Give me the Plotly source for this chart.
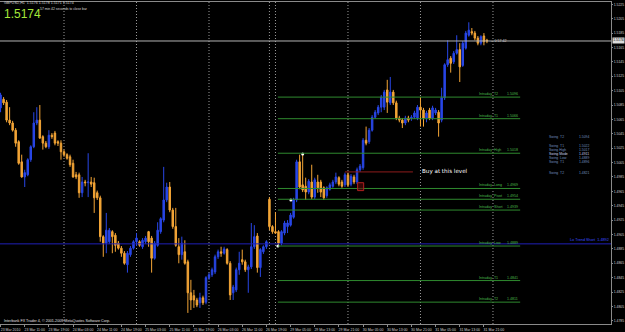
import plotly.graph_objects as go

# ---------------- data (GBPUSD H1) ----------------
open_ = [1.5081, 1.5093, 1.5089, 1.5064, 1.5060, 1.5050, 1.5034, 1.5006, 1.4985, 1.4988,
         1.5009, 1.5027, 1.5060, 1.5064, 1.5041, 1.5032, 1.5027, 1.5043, 1.5046, 1.5034,
         1.5032, 1.5020, 1.5016, 1.5013, 1.5004, 1.4988, 1.4988, 1.4963, 1.4978, 1.4977,
         1.4978, 1.4977, 1.4963, 1.4956, 1.4902, 1.4893, 1.4895, 1.4909, 1.4904, 1.4893,
         1.4886, 1.4879, 1.4863, 1.4877, 1.4886, 1.4895, 1.4895, 1.4888, 1.4895, 1.4909,
         1.4900, 1.4872, 1.4890, 1.4909, 1.4925, 1.4953, 1.4971, 1.4939, 1.4916, 1.4888,
         1.4877, 1.4881, 1.4867, 1.4824, 1.4820, 1.4814, 1.4810, 1.4817, 1.4811, 1.4845,
         1.4849, 1.4853, 1.4874, 1.4881, 1.4879, 1.4884, 1.4865, 1.4824, 1.4828, 1.4856,
         1.4870, 1.4867, 1.4856, 1.4860, 1.4888, 1.4903, 1.4859, 1.4881, 1.4888, 1.4954,
         1.4916, 1.4909, 1.4909, 1.4893, 1.4907, 1.4916, 1.4918, 1.4929, 1.4953, 1.5006,
         1.4974, 1.4972, 1.4964, 1.4978, 1.4957, 1.4978, 1.4978, 1.4970, 1.4959, 1.4968,
         1.4972, 1.4978, 1.4984, 1.4978, 1.4974, 1.4988, 1.4975, 1.4985, 1.4978, 1.4995,
         1.4998, 1.5036, 1.5034, 1.5050, 1.5068, 1.5074, 1.5082, 1.5082, 1.5106, 1.5088,
         1.5103, 1.5088, 1.5067, 1.5064, 1.5060, 1.5067, 1.5067, 1.5068, 1.5067, 1.5082,
         1.5078, 1.5067, 1.5078, 1.5067, 1.5074, 1.5075, 1.5064, 1.5095, 1.5141, 1.5150,
         1.5145, 1.5157, 1.5162, 1.5140, 1.5164, 1.5182, 1.5187, 1.5185, 1.5178, 1.5171,
         1.5181, 1.5175]
high = [1.5102, 1.5096, 1.5092, 1.5082, 1.5063, 1.5053, 1.5036, 1.5016, 1.4995, 1.5011,
        1.5029, 1.5075, 1.5082, 1.5085, 1.5043, 1.5035, 1.5050, 1.5046, 1.5049, 1.5036,
        1.5036, 1.5023, 1.5018, 1.5016, 1.5009, 1.4992, 1.4991, 1.4985, 1.4981, 1.5018,
        1.4985, 1.4984, 1.4966, 1.4959, 1.4904, 1.4935, 1.4914, 1.4911, 1.4907, 1.4896,
        1.4889, 1.4882, 1.4882, 1.4889, 1.4897, 1.4907, 1.4897, 1.4900, 1.4903, 1.4910,
        1.4903, 1.4896, 1.4922, 1.4929, 1.4999, 1.4977, 1.4978, 1.4942, 1.4942, 1.4900,
        1.4902, 1.4897, 1.4870, 1.4842, 1.4828, 1.4817, 1.4824, 1.4820, 1.4847, 1.4852,
        1.4859, 1.4877, 1.4884, 1.4888, 1.4888, 1.4886, 1.4868, 1.4835, 1.4859, 1.4881,
        1.4884, 1.4870, 1.4863, 1.4921, 1.4918, 1.4907, 1.4886, 1.4890, 1.4897, 1.4957,
        1.4918, 1.4936, 1.4911, 1.4911, 1.4924, 1.4925, 1.4935, 1.4956, 1.5009, 1.5016,
        1.5017, 1.4984, 1.4982, 1.5002, 1.4984, 1.4988, 1.4981, 1.4972, 1.4972, 1.4977,
        1.4981, 1.4991, 1.4986, 1.4981, 1.4991, 1.4991, 1.4989, 1.4988, 1.4998, 1.5003,
        1.5039, 1.5055, 1.5053, 1.5071, 1.5078, 1.5085, 1.5099, 1.5106, 1.5120, 1.5124,
        1.5106, 1.5091, 1.5070, 1.5067, 1.5070, 1.5070, 1.5071, 1.5077, 1.5085, 1.5096,
        1.5081, 1.5077, 1.5081, 1.5084, 1.5081, 1.5078, 1.5109, 1.5143, 1.5175, 1.5153,
        1.5160, 1.5182, 1.5171, 1.5174, 1.5188, 1.5200, 1.5192, 1.5188, 1.5181, 1.5182,
        1.5185, 1.5177]
low = [1.5075, 1.5085, 1.5061, 1.5057, 1.5048, 1.5027, 1.5002, 1.4984, 1.4971, 1.4986,
       1.5006, 1.5025, 1.5057, 1.5038, 1.5023, 1.5025, 1.5024, 1.5038, 1.5029, 1.5028,
       1.5009, 1.5013, 1.5009, 1.4999, 1.4984, 1.4982, 1.4956, 1.4957, 1.4972, 1.4957,
       1.4971, 1.4935, 1.4953, 1.4895, 1.4874, 1.4879, 1.4892, 1.4879, 1.4881, 1.4884,
       1.4874, 1.4863, 1.4852, 1.4874, 1.4884, 1.4889, 1.4888, 1.4885, 1.4892, 1.4888,
       1.4852, 1.4870, 1.4888, 1.4906, 1.4922, 1.4950, 1.4936, 1.4913, 1.4888, 1.4865,
       1.4870, 1.4863, 1.4796, 1.4800, 1.4803, 1.4804, 1.4803, 1.4807, 1.4808, 1.4842,
       1.4846, 1.4850, 1.4871, 1.4874, 1.4877, 1.4863, 1.4814, 1.4814, 1.4825, 1.4849,
       1.4863, 1.4853, 1.4824, 1.4857, 1.4885, 1.4852, 1.4846, 1.4878, 1.4885, 1.4911,
       1.4906, 1.4906, 1.4889, 1.4890, 1.4904, 1.4907, 1.4916, 1.4927, 1.4950, 1.4968,
       1.4964, 1.4953, 1.4961, 1.4954, 1.4954, 1.4963, 1.4957, 1.4953, 1.4956, 1.4966,
       1.4970, 1.4975, 1.4972, 1.4970, 1.4971, 1.4971, 1.4972, 1.4975, 1.4975, 1.4992,
       1.4995, 1.5029, 1.5031, 1.5048, 1.5066, 1.5071, 1.5075, 1.5078, 1.5074, 1.5085,
       1.5085, 1.5064, 1.5061, 1.5053, 1.5057, 1.5061, 1.5063, 1.5066, 1.5064, 1.5055,
       1.5055, 1.5061, 1.5064, 1.5064, 1.5071, 1.5041, 1.5061, 1.5092, 1.5138, 1.5130,
       1.5142, 1.5155, 1.5117, 1.5138, 1.5162, 1.5180, 1.5182, 1.5175, 1.5168, 1.5168,
       1.5168, 1.5171]
close = [1.5099, 1.5088, 1.5064, 1.5060, 1.5050, 1.5032, 1.5004, 1.4985, 1.4991, 1.5009,
         1.5027, 1.5060, 1.5064, 1.5039, 1.5032, 1.5027, 1.5043, 1.5041, 1.5032, 1.5032,
         1.5020, 1.5016, 1.5011, 1.5002, 1.4985, 1.4985, 1.4963, 1.4978, 1.4977, 1.4978,
         1.4975, 1.4956, 1.4956, 1.4902, 1.4893, 1.4911, 1.4911, 1.4902, 1.4890, 1.4886,
         1.4879, 1.4865, 1.4879, 1.4886, 1.4895, 1.4900, 1.4890, 1.4897, 1.4900, 1.4895,
         1.4872, 1.4893, 1.4911, 1.4927, 1.4953, 1.4971, 1.4939, 1.4916, 1.4890, 1.4877,
         1.4893, 1.4865, 1.4824, 1.4814, 1.4814, 1.4807, 1.4817, 1.4810, 1.4845, 1.4849,
         1.4856, 1.4874, 1.4881, 1.4879, 1.4885, 1.4865, 1.4821, 1.4832, 1.4856, 1.4865,
         1.4867, 1.4856, 1.4860, 1.4888, 1.4902, 1.4859, 1.4884, 1.4888, 1.4895, 1.4916,
         1.4909, 1.4907, 1.4893, 1.4909, 1.4921, 1.4921, 1.4932, 1.4953, 1.5006, 1.4971,
         1.4967, 1.4964, 1.4979, 1.4957, 1.4981, 1.4970, 1.4964, 1.4956, 1.4970, 1.4974,
         1.4978, 1.4985, 1.4975, 1.4972, 1.4988, 1.4974, 1.4986, 1.4978, 1.4995, 1.5000,
         1.5036, 1.5032, 1.5050, 1.5068, 1.5075, 1.5082, 1.5096, 1.5103, 1.5089, 1.5103,
         1.5088, 1.5067, 1.5064, 1.5060, 1.5067, 1.5064, 1.5068, 1.5074, 1.5082, 1.5078,
         1.5067, 1.5074, 1.5067, 1.5081, 1.5078, 1.5060, 1.5095, 1.5141, 1.5148, 1.5143,
         1.5157, 1.5162, 1.5138, 1.5171, 1.5185, 1.5189, 1.5185, 1.5178, 1.5171, 1.5180,
         1.5173, 1.5174]
bar_index = list(range(len(close)))

time_tick_bars = [0, 8, 16, 24, 32, 40, 48, 56, 64, 72, 80, 88, 96, 104, 112, 120, 128, 136, 144, 152, 160]
time_tick_labels = ["23 Mar 2010", "23 Mar 11:00", "23 Mar 19:00", "24 Mar 03:00", "24 Mar 11:00",
                    "24 Mar 19:00", "25 Mar 03:00", "25 Mar 11:00", "25 Mar 19:00", "26 Mar 03:00",
                    "26 Mar 11:00", "26 Mar 19:00", "29 Mar 05:00", "29 Mar 13:00", "29 Mar 21:00",
                    "30 Mar 05:00", "30 Mar 13:00", "30 Mar 21:00", "31 Mar 05:00", "31 Mar 13:00",
                    "31 Mar 21:00"]
price_ticks = [1.5225, 1.5205, 1.5185, 1.5165, 1.5145, 1.5125, 1.5105, 1.5085, 1.5065, 1.5045,
               1.5025, 1.5005, 1.4985, 1.4965, 1.4945, 1.4925, 1.4905, 1.4885, 1.4865, 1.4845,
               1.4825, 1.4805, 1.4785]
separator_bars = [21, 45, 69, 89, 91, 115, 139, 163]

level_names = ["Intraday  T2", "Intraday  T1", "Intraday  High", "Intraday  Long", "Intraday  Pivot",
               "Intraday  Short", "Intraday  Low", "Intraday  T1", "Intraday  T2"]
level_values = [1.5096, 1.5066, 1.5018, 1.4969, 1.4954, 1.4939, 1.4889, 1.4841, 1.4811]
level_start_bar = 91.8
level_end_bar = 172

trend_name = "Lo Trend Short"
trend_value = 1.4892

buy_text = "Buy at this level"
buy_value = 1.4992
buy_from_bar, buy_to_bar = 114, 136.5

swing_names = ["Swing  T2", "Swing  T1", "Swing High", "Swing Mode", "Swing  Low", "Swing  T1", "Swing  T2"]
swing_values = ["1.5094", "1.5022", "1.5017", "1.4911", "1.4889", "1.4896", "1.4821"]

marker_bars = [91.8, 96.1, 100]
marker_prices = [1.4889, 1.4953, 1.5017]

current_price = 1.5174

# ---------------- styles ----------------
BLUE = "#2846e6"
ORANGE = "#f2a436"
GREEN_LINE = "#2f8a2f"
GREEN_TEXT = "#4cbb4c"
GREY = "#8a8a8a"
FONT = "Liberation Sans"

W, H = 625, 332
L_PX, R_PX, T_PX, B_PX = 0, 611, 2, 324
PITCH = 3.021
X0 = 0.56


def px_x(px):
    return px / (R_PX - L_PX)


def px_y(py):
    return (B_PX - py) / (B_PX - T_PX)


fig = go.Figure()

fig.add_trace(go.Candlestick(
    x=bar_index, open=open_, high=high, low=low, close=close,
    increasing=dict(line=dict(color=BLUE, width=1), fillcolor=BLUE),
    decreasing=dict(line=dict(color=ORANGE, width=1), fillcolor=ORANGE),
    whiskerwidth=0, hoverinfo="skip", showlegend=False,
))

fig.add_trace(go.Scatter(x=marker_bars, y=marker_prices, mode="markers",
                         marker=dict(color="white", size=3, line=dict(width=0)),
                         hoverinfo="skip", showlegend=False))

shapes = []
for s in separator_bars:
    shapes.append(dict(type="line", xref="x", yref="paper", x0=s, x1=s, y0=0, y1=1,
                       line=dict(color="#9a9a9a", width=1, dash="1px,2px"), layer="below"))

shapes.append(dict(type="line", xref="paper", yref="y", x0=0, x1=1, y0=trend_value, y1=trend_value,
                   line=dict(color="#2020b8", width=1)))
shapes.append(dict(type="line", xref="paper", yref="y", x0=0, x1=1, y0=current_price, y1=current_price,
                   line=dict(color="#b4b4b4", width=1)))

annotations = []
for name, val in zip(level_names, level_values):
    shapes.append(dict(type="line", xref="x", yref="y", x0=level_start_bar, x1=level_end_bar,
                       y0=val, y1=val, line=dict(color=GREEN_LINE, width=1)))
    annotations.append(dict(x=157.7, y=val, xref="x", yref="y", text=name, showarrow=False,
                            xanchor="left", yanchor="bottom", yshift=-1,
                            font=dict(family=FONT, size=3.6, color=GREEN_TEXT)))
    annotations.append(dict(x=level_end_bar, y=val, xref="x", yref="y", text=f"{val:.4f}",
                            showarrow=False, xanchor="right", yanchor="bottom", yshift=-1,
                            font=dict(family=FONT, size=3.6, color=GREEN_TEXT)))

shapes.append(dict(type="line", xref="x", yref="y", x0=buy_from_bar, x1=buy_to_bar,
                   y0=buy_value, y1=buy_value, line=dict(color="#8e1c1c", width=1)))
shapes.append(dict(type="rect", xref="x", yref="y", x0=118.2, x1=120.2, y0=1.4966, y1=1.4977,
                   line=dict(color="#b02020", width=1), fillcolor="rgba(90,10,10,0.6)"))
annotations.append(dict(x=138.8, y=buy_value, xref="x", yref="y", text=buy_text, showarrow=False,
                        xanchor="left", yanchor="middle",
                        font=dict(family="DejaVu Sans", size=5.6, color="white")))

annotations.append(dict(x=1, y=trend_value, xref="paper", yref="y",
                        text=f"{trend_name}  {trend_value:.4f}", showarrow=False,
                        xanchor="right", yanchor="bottom", yshift=0,
                        font=dict(family=FONT, size=3.8, color="#3a4cff")))

swing_rows_px = [137, 146, 150, 154, 158, 162, 173]
for name, val, py in zip(swing_names, swing_values, swing_rows_px):
    col = "#c8d4ea" if name == "Swing Mode" else "#6f8fbf"
    annotations.append(dict(x=px_x(547), y=px_y(py), xref="paper", yref="paper", text=name,
                            showarrow=False, xanchor="left", yanchor="middle",
                            font=dict(family=FONT, size=3.4, color=col)))
    annotations.append(dict(x=px_x(577), y=px_y(py), xref="paper", yref="paper", text=val,
                            showarrow=False, xanchor="left", yanchor="middle",
                            font=dict(family=FONT, size=3.4, color=col)))

# top-left texts
annotations.append(dict(x=px_x(2), y=px_y(3), xref="paper", yref="paper",
                        text="GBPUSD,H1  1.5176 1.5178 1.5171 1.5174", showarrow=False,
                        xanchor="left", yanchor="middle",
                        font=dict(family=FONT, size=3.6, color="#d8d8d8")))
annotations.append(dict(x=px_x(2), y=px_y(14), xref="paper", yref="paper",
                        text=f"{current_price:.4f}", showarrow=False,
                        xanchor="left", yanchor="middle",
                        font=dict(family=FONT, size=12, color="#a6e83a")))
annotations.append(dict(x=px_x(38), y=px_y(8.5), xref="paper", yref="paper",
                        text="57 min 42 seconds to close bar", showarrow=False,
                        xanchor="left", yanchor="middle",
                        font=dict(family=FONT, size=3.4, color="#d8d8d8")))
annotations.append(dict(x=px_x(2), y=px_y(320.5), xref="paper", yref="paper",
                        text="Interbank FX Trader 4, \u00a9 2001-2009 MetaQuotes Software Corp.",
                        showarrow=False, xanchor="left", yanchor="middle",
                        font=dict(family=FONT, size=3.7, color="#e0e0e0")))
annotations.append(dict(x=161.5, y=current_price, xref="x", yref="y", text="\u2190 0:57:42",
                        showarrow=False, xanchor="left", yanchor="middle",
                        font=dict(family=FONT, size=3.6, color="#d0d0d0")))
# price tag on the axis
annotations.append(dict(x=1, y=current_price, xref="paper", yref="y", text=f"{current_price:.4f}",
                        showarrow=False, xanchor="left", yanchor="middle", xshift=0.5,
                        bgcolor="#dcdcdc", borderpad=0.3,
                        font=dict(family=FONT, size=3.4, color="black")))

x_left = (L_PX - X0) / PITCH
x_right = (R_PX - X0) / PITCH
fig.update_layout(
    width=W, height=H,
    margin=dict(l=L_PX, r=W - R_PX, t=T_PX, b=H - B_PX, pad=0, autoexpand=False),
    paper_bgcolor="black", plot_bgcolor="black",
    showlegend=False,
    shapes=shapes, annotations=annotations,
    xaxis=dict(range=[x_left, x_right], rangeslider=dict(visible=False),
               tickmode="array", tickvals=time_tick_bars, ticktext=time_tick_labels,
               tickangle=0, automargin=False,
               showgrid=False, zeroline=False, showline=True, linecolor=GREY, mirror=True,
               ticks="outside", ticklen=2, tickcolor=GREY, ticklabelshift=10,
               ticklabelstandoff=0,
               tickfont=dict(family=FONT, size=3.5, color="#cfcfcf")),
    yaxis=dict(range=[1.47806, 1.52282], side="right", automargin=False,
               tickmode="array", tickvals=price_ticks, ticktext=[f"{v:.4f}" for v in price_ticks],
               showgrid=False, zeroline=False, showline=True, linecolor=GREY, mirror=True,
               ticks="outside", ticklen=1, tickcolor=GREY, ticklabelstandoff=0,
               tickfont=dict(family=FONT, size=3.4, color="#cfcfcf")),
)

fig.write_html("out.html")
